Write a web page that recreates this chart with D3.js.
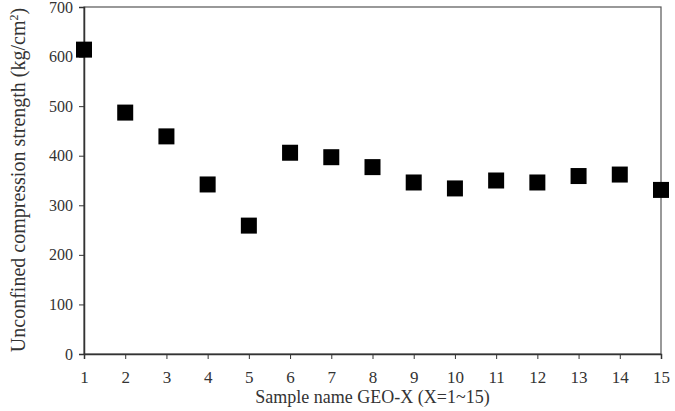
<!DOCTYPE html>
<html lang="en">
<head>
<meta charset="utf-8">
<title>Unconfined compression strength</title>
<script src="https://d3js.org/d3.v7.min.js"></script>
<style>
  body { margin: 0; background: #fff; }
  svg text { font-family: "Liberation Serif", "Times New Roman", serif; fill: #333; }
</style>
</head>
<body>
<svg id="chart" width="675" height="411"></svg>
<script>
var samples = [1, 2, 3, 4, 5, 6, 7, 8, 9, 10, 11, 12, 13, 14, 15];
var strength = [614, 487, 439, 342, 259, 406, 397, 377, 346, 334, 350, 346, 359, 362, 331];
var yTicks = [0, 100, 200, 300, 400, 500, 600, 700];

var svg = d3.select('#chart');
var plotLeft = 84, plotRight = 661, plotTop = 7, plotBottom = 354;

var x = d3.scaleLinear().domain([1, 15]).range([plotLeft, plotRight]);
var y = d3.scaleLinear().domain([0, 700]).range([plotBottom, plotTop]);

// frame
svg.append('rect')
    .attr('x', plotLeft).attr('y', plotTop)
    .attr('width', plotRight - plotLeft).attr('height', plotBottom - plotTop)
    .attr('fill', 'none').attr('stroke', '#555').attr('stroke-width', 1.2);

var yAxis = svg.append('g')
    .attr('transform', 'translate(' + plotLeft + ',0)')
    .call(d3.axisLeft(y).tickValues(yTicks).tickSize(5).tickPadding(6));
yAxis.select('.domain').attr('stroke', '#333').attr('stroke-width', 1.5);
yAxis.selectAll('.tick line').attr('stroke', '#333');
yAxis.selectAll('text').style('font-size', '16px');

var xAxis = svg.append('g')
    .attr('transform', 'translate(0,' + plotBottom + ')')
    .call(d3.axisBottom(x).tickValues(samples).tickFormat(d3.format('d')).tickSize(5).tickPadding(12));
xAxis.select('.domain').attr('stroke', '#333').attr('stroke-width', 1.5);
xAxis.selectAll('.tick line').attr('stroke', '#333');
xAxis.selectAll('text').style('font-size', '17px');

var sz = 16;
svg.append('g').selectAll('rect')
    .data(samples)
    .join('rect')
    .attr('x', function (d) { return x(d) - sz / 2; })
    .attr('y', function (d, i) { return y(strength[i]) - sz / 2; })
    .attr('width', sz).attr('height', sz)
    .attr('fill', '#000');

svg.append('text')
    .attr('x', (plotLeft + plotRight) / 2).attr('y', 403)
    .attr('text-anchor', 'middle')
    .style('font-size', '18px')
    .text('Sample name GEO-X (X=1~15)');

var yl = svg.append('text')
    .attr('transform', 'translate(25,' + 180 + ') rotate(-90)')
    .attr('text-anchor', 'middle')
    .style('font-size', '20px');
yl.append('tspan').text('Unconfined compression strength (kg/cm');
yl.append('tspan').attr('dy', -7).style('font-size', '12px').text('2');
yl.append('tspan').attr('dy', 7).text(')');
</script>
</body>
</html>
